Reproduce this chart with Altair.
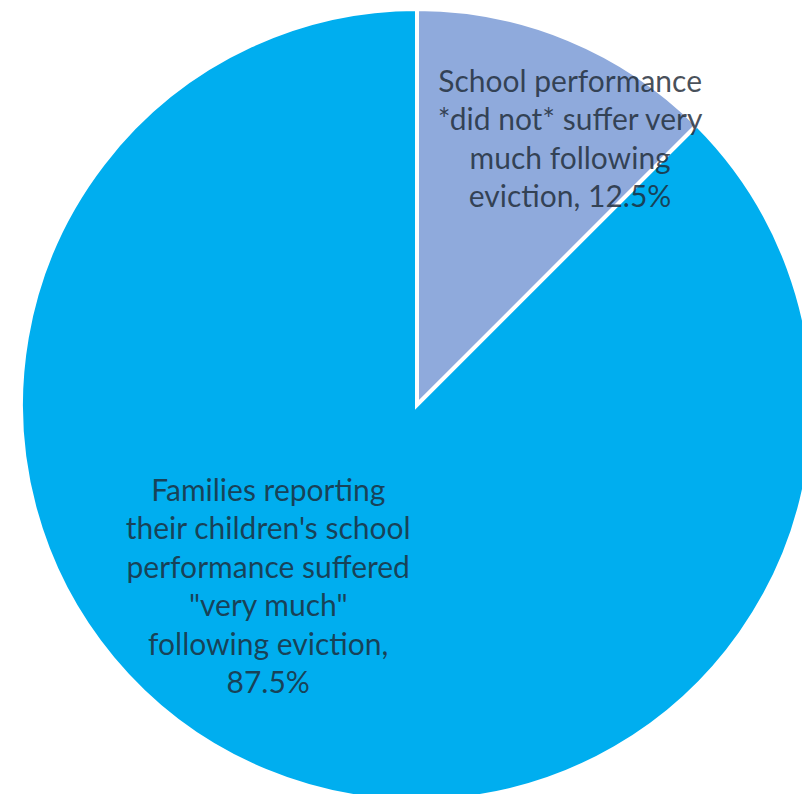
import altair as alt
import pandas as pd

labels = [
    "School performance\n*did not* suffer very\nmuch following\neviction, 12.5%",
    "Families reporting\ntheir children's school\nperformance suffered\n\"very much\"\nfollowing eviction,\n87.5%",
]
keys = ["did not", "very much"]
values = [12.5, 87.5]
order = [0, 1]
colors = ["#8FAADC", "#00AEEF"]

df = pd.DataFrame({"key": keys, "value": values, "label": labels, "idx": order})

W, H = 794, 786
CX, CY = 409, 397
R = 396
LH = 38.5

color = alt.Color("key:N", scale=alt.Scale(domain=keys, range=colors), legend=None)

arcs = alt.Chart(df).mark_arc(radius=R, stroke="white", strokeWidth=4).encode(
    theta=alt.Theta("value:Q", stack=True),
    order=alt.Order("idx:Q"),
    color=color,
    x=alt.value(CX),
    y=alt.value(CY),
)

text_base = (
    alt.Chart(df)
    .transform_window(cum="sum(value)", sort=[alt.SortField("idx")])
    .transform_calculate(mid="datum.cum - datum.value / 2")
)

def label_layer(key, radius, dx, dy):
    return (
        text_base.transform_filter(alt.datum.key == key)
        .mark_text(
            radius=radius,
            dx=dx,
            dy=dy,
            font="Lato",
            fontSize=30,
            lineHeight=LH,
            lineBreak="\n",
            align="center",
            baseline="middle",
            fill="#1e2a36",
            fillOpacity=0.82,
        )
        .encode(
            theta=alt.Theta("mid:Q", scale=alt.Scale(domain=[0, 100]), stack=None),
            text="label:N",
            x=alt.value(CX),
            y=alt.value(CY),
        )
    )

small_lbl = label_layer("did not", 306, 36, 18 - 1.5 * LH)
big_lbl = label_layer("very much", 198, -73, -2.5 * LH)

chart = (
    alt.layer(arcs, small_lbl, big_lbl)
    .properties(width=W, height=H, padding=0, autosize=alt.AutoSizeParams(type="none"))
    .configure_view(stroke=None)
)

chart.save("out.html", embed_options={"renderer": "svg", "actions": False})
